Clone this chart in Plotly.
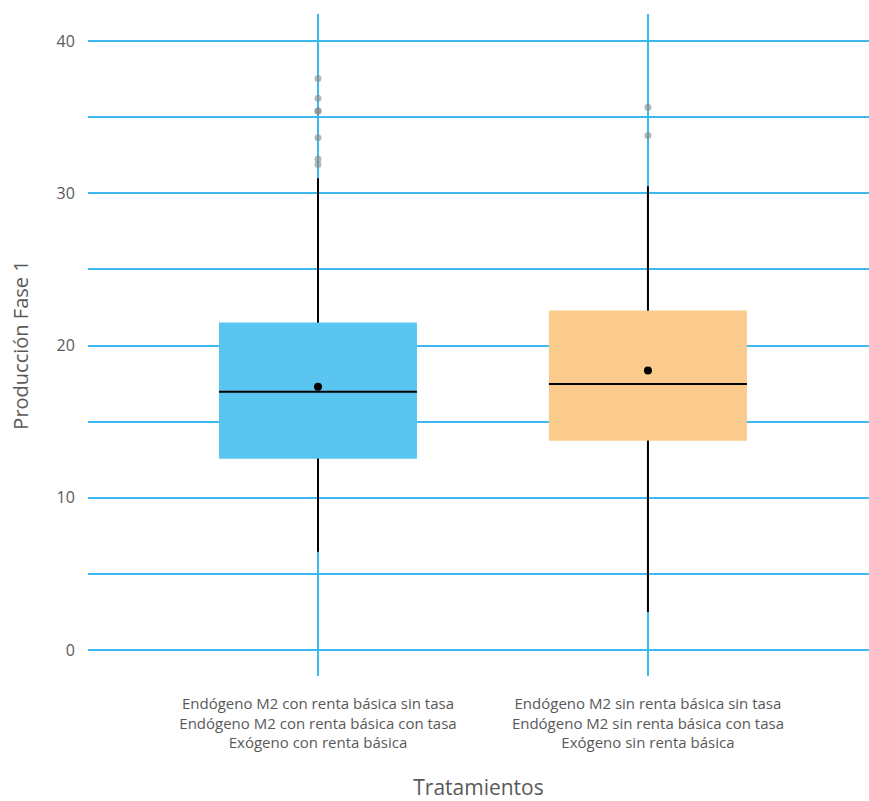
import plotly.graph_objects as go

# Treatment groups (multi-line tick labels)
tratamientos = [
    "Endógeno M2 con renta básica sin tasa<br>Endógeno M2 con renta básica con tasa<br>Exógeno con renta básica",
    "Endógeno M2 sin renta básica sin tasa<br>Endógeno M2 sin renta básica con tasa<br>Exógeno sin renta básica",
]
posiciones = [0, 1]

# Box statistics per treatment
q1 = [12.57, 13.75]
mediana = [16.97, 17.48]
q3 = [21.51, 22.30]
bigote_inf = [6.45, 2.50]
bigote_sup = [30.99, 30.46]
media = [17.30, 18.36]

# Outliers per treatment
atipicos = [
    [37.55, 36.25, 35.40, 35.40, 33.65, 32.25, 31.90],
    [35.65, 33.80],
]

colores = ["#5BC5F2", "#FACB8C"]
ancho_caja = 0.6
color_grid = "rgb(60,185,238)"
color_texto = "#595959"

fig = go.Figure()

for i, x in enumerate(posiciones):
    # whiskers (drawn first, the box covers the overlap)
    fig.add_trace(go.Scatter(
        x=[x, x], y=[q3[i], bigote_sup[i]], mode="lines",
        line=dict(color="black", width=2), showlegend=False, hoverinfo="skip"))
    fig.add_trace(go.Scatter(
        x=[x, x], y=[bigote_inf[i], q1[i]], mode="lines",
        line=dict(color="black", width=2), showlegend=False, hoverinfo="skip"))
    # box body, no outline
    fig.add_trace(go.Box(
        x=[x], q1=[q1[i]], median=[mediana[i]], q3=[q3[i]],
        lowerfence=[q1[i]], upperfence=[q3[i]],
        fillcolor=colores[i], line=dict(color=colores[i], width=0),
        width=ancho_caja, boxpoints=False, showlegend=False, whiskerwidth=0))
    # median line
    fig.add_trace(go.Scatter(
        x=[x - ancho_caja / 2, x + ancho_caja / 2], y=[mediana[i], mediana[i]],
        mode="lines", line=dict(color="black", width=2),
        showlegend=False, hoverinfo="skip"))
    # outliers
    fig.add_trace(go.Scatter(
        x=[x] * len(atipicos[i]), y=atipicos[i], mode="markers",
        marker=dict(color="#888888", size=7, opacity=0.6),
        showlegend=False))
    # mean
    fig.add_trace(go.Scatter(
        x=[x], y=[media[i]], mode="markers",
        marker=dict(color="black", size=8), showlegend=False))

fig.update_layout(
    template="none",
    width=869, height=801,
    margin=dict(l=88, r=0, t=14, b=125),
    plot_bgcolor="white", paper_bgcolor="white",
    font=dict(family="Open Sans", color=color_texto),
    xaxis=dict(
        range=[-0.697, 1.67], tickvals=posiciones, ticktext=tratamientos,
        showgrid=True, gridcolor=color_grid, gridwidth=2,
        zeroline=False, showline=False,
        ticks="outside", ticklen=14, tickcolor="rgba(0,0,0,0)",
        tickfont=dict(size=15, color=color_texto),
        title=dict(text="Tratamientos", font=dict(size=21, color=color_texto), standoff=41),
    ),
    yaxis=dict(
        range=[-1.71, 41.78], tickvals=[0, 10, 20, 30, 40],
        showgrid=True, gridcolor=color_grid, gridwidth=2,
        minor=dict(tickvals=[5, 15, 25, 35], showgrid=True,
                   gridcolor=color_grid, gridwidth=2),
        zeroline=False, showline=False,
        ticks="outside", ticklen=9, tickcolor="rgba(0,0,0,0)",
        tickfont=dict(size=16, color=color_texto),
        title=dict(text="Producción Fase 1", font=dict(size=20, color=color_texto), standoff=22),
    ),
)

fig.write_html("out.html")
